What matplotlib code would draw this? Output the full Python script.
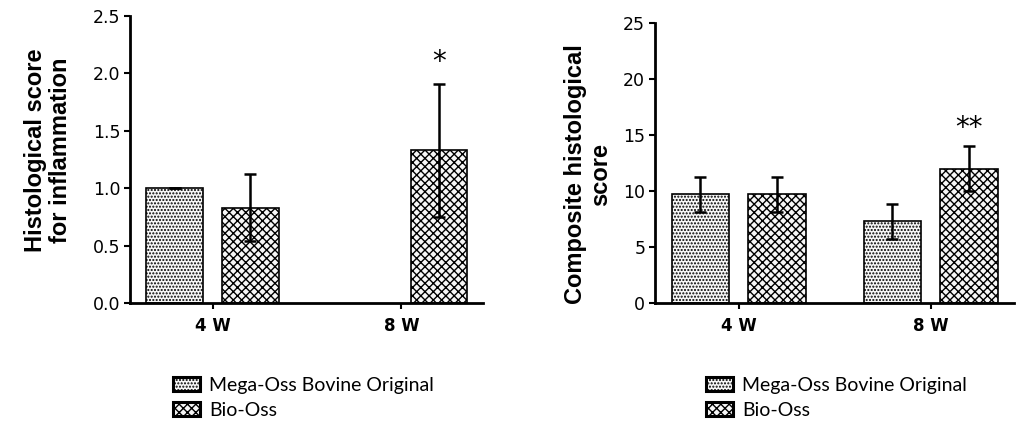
"""Histological scores for two bone substitutes at 4 and 8 weeks."""

import numpy as np
import matplotlib.pyplot as plt
from matplotlib import rcParams
from matplotlib.patches import Patch

rcParams["hatch.linewidth"] = 1.0
rcParams["font.family"] = "DejaVu Sans"

weeks = ["4 W", "8 W"]
groups = ["Mega-Oss Bovine Original", "Bio-Oss"]

infl_mega = [1.0, 0.0]
infl_mega_err = [0.0, 0.0]
infl_bio = [0.83, 1.33]
infl_bio_err = [0.29, 0.58]

comp_mega = [9.7, 7.3]
comp_mega_err = [1.55, 1.55]
comp_bio = [9.7, 12.0]
comp_bio_err = [1.55, 2.0]

hatches = [".....", "xxxx"]


def draw_panel(ax, mega, mega_err, bio, bio_err, ymax, yticks, fmt, ylabel):
    x = np.arange(len(weeks))
    for i, (vals, errs) in enumerate([(mega, mega_err), (bio, bio_err)]):
        pos = x + (-0.2 if i == 0 else 0.2)
        show = [v > 0 for v in vals]
        ax.bar(pos[show], np.array(vals)[show], width=0.3, color="#f7f7f7",
               edgecolor="black", linewidth=1.2, hatch=hatches[i])
        ax.errorbar(pos[show], np.array(vals)[show], yerr=np.array(errs)[show], fmt="none",
                    ecolor="black", elinewidth=1.8, capsize=4.6, capthick=1.8)
    ax.set_xlim(-0.437, 1.434)
    ax.set_ylim(0, ymax)
    ax.set_yticks(yticks)
    ax.set_yticklabels([fmt.format(t) for t in yticks], fontsize=12.5)
    ax.set_xticks(x)
    ax.set_xticklabels(weeks, fontsize=12, fontweight="bold")
    for s in ["top", "right"]:
        ax.spines[s].set_visible(False)
    for s in ["left", "bottom"]:
        ax.spines[s].set_linewidth(2)
    ax.tick_params(axis="y", width=1.5, length=4, direction="out", pad=3)
    ax.tick_params(axis="x", width=1.5, length=4, direction="out", pad=6)
    ax.set_ylabel(ylabel, fontsize=17, fontweight="bold", family="Liberation Sans",
                  linespacing=1.1)


fig = plt.figure(figsize=(10.24, 4.21), dpi=100)
ax1 = fig.add_axes([0.127, 0.2803, 0.345, 0.682])
ax2 = fig.add_axes([0.6396, 0.2803, 0.3506, 0.665])

draw_panel(ax1, infl_mega, infl_mega_err, infl_bio, infl_bio_err, 2.5,
           [0, 0.5, 1.0, 1.5, 2.0, 2.5], "{:.1f}",
           "Histological score\nfor inflammation")
ax1.yaxis.set_label_coords(-0.164, 0.533)
ax1.text(1.2, 2.1, "*", ha="center", va="center", fontsize=20)

draw_panel(ax2, comp_mega, comp_mega_err, comp_bio, comp_bio_err, 25,
           [0, 5, 10, 15, 20, 25], "{:d}",
           "Composite histological\nscore")
ax2.yaxis.set_label_coords(-0.12, 0.46)
ax2.text(1.2, 15.6, "**", ha="center", va="center", fontsize=20)

handles = [Patch(facecolor="#f7f7f7", edgecolor="black", linewidth=2.2, hatch=h)
           for h in hatches]
for x0 in [173, 706]:
    fig.legend(handles, groups, loc="upper left", bbox_to_anchor=(x0 / 1024, 1 - 377 / 421),
               frameon=False, prop={"family": "Lato", "size": 14},
               handlelength=1.4, handleheight=0.75, handletextpad=0.45,
               labelspacing=0.4, borderpad=0, borderaxespad=0)

fig.savefig("out.png", dpi=100, facecolor="white")
